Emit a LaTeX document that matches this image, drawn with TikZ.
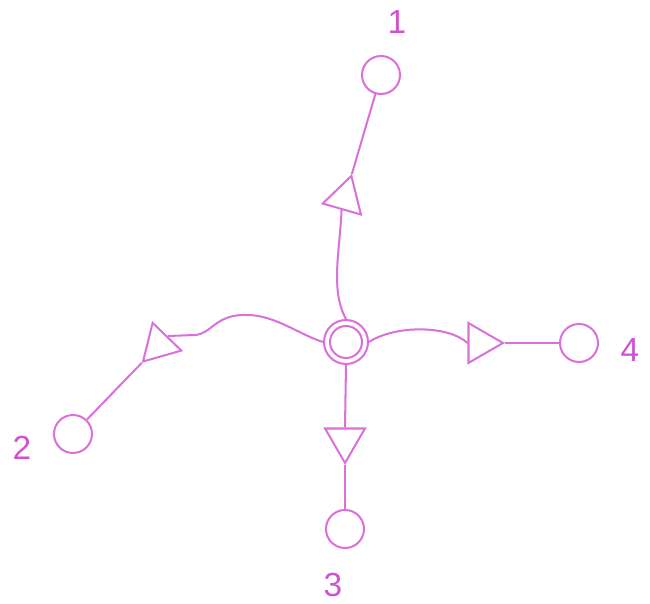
\documentclass[tikz,border=0pt]{standalone}
\usepackage{fontspec}
\setmainfont{Liberation Sans}
\usetikzlibrary{shapes.geometric}
\definecolor{pinkline}{RGB}{218,112,218}
\definecolor{pinktext}{RGB}{208,82,210}
\begin{document}
\begin{tikzpicture}[
  x=0.02cm, y=-0.02cm,
  port/.style={circle, draw=pinkline, line width=1.15pt, minimum size=0.76cm, inner sep=0pt},
  hubring/.style={circle, draw=pinkline, line width=1.15pt, inner sep=0pt},
  amp/.style={regular polygon, regular polygon sides=3, draw=pinkline, line width=1.15pt, minimum size=0.92cm, inner sep=0pt},
  wire/.style={draw=pinkline, line width=1.15pt},
  num/.style={text=pinktext, font=\fontsize{19}{22}\selectfont, inner sep=0pt}
]
  \useasboundingbox (0,0) rectangle (650,604);

  \node[hubring, minimum size=0.88cm] (hub) at (346,342) {};
  \node[hubring, minimum size=0.64cm] (hubin) at (hub) {};

  \node[port] (n1) at (381,75) {};
  \node[port] (n2) at (73,434) {};
  \node[port] (n3) at (345,529) {};
  \node[port] (n4) at (579,343) {};

  \node[num] (l1) at (397,22) {1};
  \node[num] (l2) at (22,448) {2};
  \node[num] (l3) at (333,585) {3};
  \node[num] (l4) at (630,350) {4};

  \node[amp, rotate=-16] (tri1) at (345,198) {};
  \node[amp, rotate=136] (tri2) at (159,345) {};
  \node[amp, rotate=180] (tri3) at (345,440) {};
  \node[amp, rotate=-90] (tri4) at (480,343) {};

  % wires from the hub
  \draw[wire] (hub.north) .. controls (330,290) and (340,250) .. (tri1.side 2);
  \draw[wire] (hub.west) .. controls (300,335) and (275,315) .. (247,315)
    .. controls (215,314) and (212,334) .. (195,335) -- (tri2.side 2);
  \draw[wire] (hub.south) -- (tri3.side 2);
  \draw[wire] (hub.east) .. controls (395,325) and (448,325) .. (tri4.side 2);

  % wires to the ports
  \draw[wire] (tri1.corner 1) -- (n1);
  \draw[wire] (tri2.corner 1) -- (n2);
  \draw[wire] (tri3.corner 1) -- (n3);
  \draw[wire] (tri4.corner 1) -- (n4);
\end{tikzpicture}
\end{document}
